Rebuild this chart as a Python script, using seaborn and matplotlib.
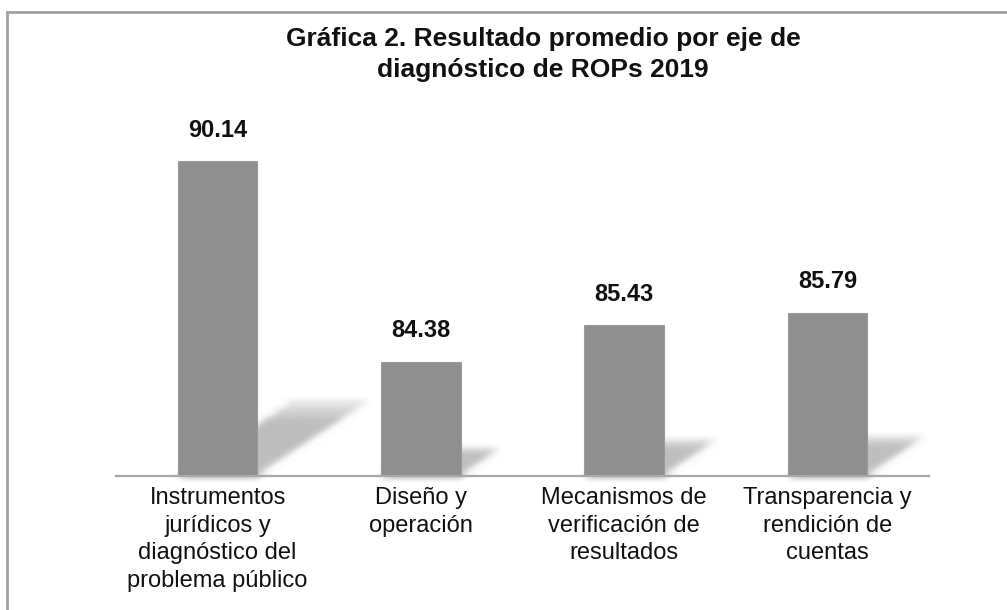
import matplotlib
matplotlib.use("Agg")
import matplotlib.pyplot as plt
import seaborn as sns
import numpy as np
from matplotlib.patches import Polygon, Rectangle

# data
categories = [
    "Instrumentos\njurídicos y\ndiagnóstico del\nproblema público",
    "Diseño y\noperación",
    "Mecanismos de\nverificación de\nresultados",
    "Transparencia y\nrendición de\ncuentas",
]
values = [90.14, 84.38, 85.43, 85.79]
title = "Gráfica 2. Resultado promedio por eje de\ndiagnóstico de ROPs 2019"

y_min, y_max = 81.1, 91.9
bar_width = 0.39
bar_color = "#8f8f8f"


def soft_blur(img, dpi, sigma=3.5):
    # plain gaussian blur used as an agg filter for the bar shadows
    pad = int(3 * sigma) + 1
    a = np.pad(img, ((pad, pad), (pad, pad), (0, 0)))
    x = np.arange(-pad, pad + 1)
    k = np.exp(-0.5 * (x / sigma) ** 2)
    k /= k.sum()
    out = np.zeros_like(a)
    for j, w in zip(x, k):
        out += w * np.roll(a, j, axis=0)
    a, out = out, np.zeros_like(out)
    for j, w in zip(x, k):
        out += w * np.roll(a, j, axis=1)
    return out, -pad, -pad


sns.set_style("white")
plt.rcParams["font.family"] = ["Liberation Sans", "DejaVu Sans"]

fig = plt.figure(figsize=(10.07, 6.10), dpi=100)
ax = fig.add_axes([116 / 1007, 134 / 610, 813 / 1007, 376 / 610])

# soft perspective shadows behind each bar, fading toward the far end
for i, v in enumerate(values):
    h = v - y_min
    left, right = i - bar_width / 2, i + bar_width / 2
    for s in [0.78, 0.9, 1.02]:
        dx, dy = 0.06 * h * s, 0.23 * h * s
        poly = Polygon([(left, y_min), (right, y_min),
                        (right + dx, y_min + dy), (left + dx, y_min + dy)],
                       closed=True, facecolor="#8c8c8c", edgecolor="none",
                       alpha=0.24, zorder=1)
        poly.set_agg_filter(soft_blur)
        ax.add_patch(poly)

sns.barplot(x=categories, y=values, color=bar_color, width=bar_width,
            saturation=1, ax=ax, zorder=3)
for p in ax.containers[0]:
    p.set_edgecolor("#9a9a9a")
    p.set_linewidth(0.8)

ax.bar_label(ax.containers[0], fmt="%.2f", padding=14,
             fontsize=17, fontweight="bold", color="#111111")

ax.set_xlim(-0.5, 3.5)
ax.set_ylim(y_min, y_max)
ax.set_yticks([])
ax.set_xlabel("")
ax.set_ylabel("")
for side in ["left", "top", "right"]:
    ax.spines[side].set_visible(False)
ax.spines["bottom"].set_color("#a8a8a8")
ax.spines["bottom"].set_linewidth(1.6)
ax.spines["bottom"].set_zorder(4)

ax.set_xticks(range(len(categories)))
ax.set_xticklabels(categories, fontsize=17, linespacing=1.33, color="#111111")
ax.tick_params(axis="x", which="major", length=0, pad=8)
ax.set_xticks(np.arange(-0.5, len(categories), 1.0), minor=True)
ax.tick_params(axis="x", which="minor", length=5, width=1.6,
               color="#a8a8a8", direction="out")

fig.text(543 / 1007, 1 - 27 / 610, title, ha="center", va="top",
         fontsize=19, fontweight="bold", linespacing=1.36, color="#111111")

# outer chart frame (only top and left edges are inside the picture)
fig.patches.append(Rectangle((7 / 1007, -0.2), 1.2, 1.2 - 12 / 610,
                             transform=fig.transFigure, fill=False,
                             edgecolor="#a0a0a0", linewidth=2, zorder=0))

fig.savefig("out.png", dpi=100)
